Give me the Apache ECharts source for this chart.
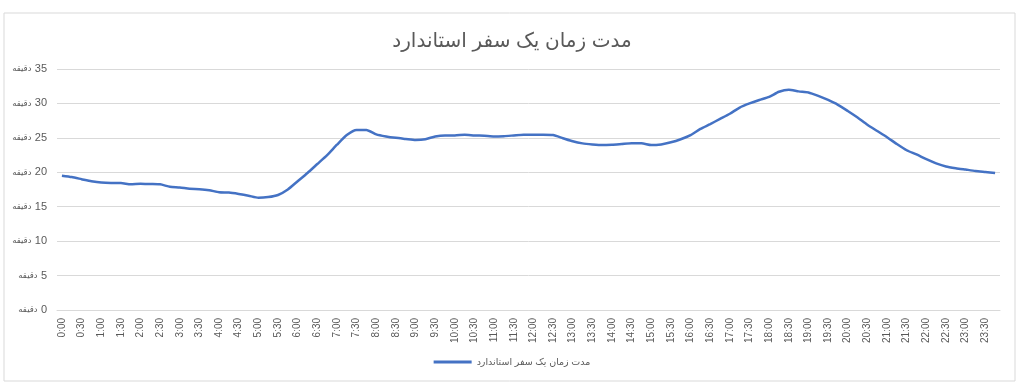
<!DOCTYPE html>
<html>
<head>
<meta charset="utf-8">
<script src="https://cdn.jsdelivr.net/npm/echarts@6/dist/echarts.min.js"></script>
<style>
html,body{margin:0;padding:0;background:#fff;}
#chart{width:1024px;height:389px;}
</style>
</head>
<body>
<div id="chart"></div>
<script>
const titleText = 'مدت زمان یک سفر استاندارد';
const seriesName = 'مدت زمان یک سفر استاندارد';
const unitWord = 'دقیقه';

// 15-minute time slots (labels shown every 30 minutes)
const categories = [];
for (let h = 0; h < 24; h++) {
  for (const m of ['00', '15', '30', '45']) categories.push(h + ':' + m);
}

const values = [
  19.5, 19.3, 19.0, 18.7, 18.5, 18.45, 18.45, 18.25,
  18.35, 18.3, 18.25, 17.9, 17.8, 17.6, 17.55, 17.4,
  17.1, 17.05, 16.85, 16.6, 16.3, 16.4, 16.7, 17.5,
  18.7, 19.9, 21.2, 22.5, 24.0, 25.4, 26.15, 26.15,
  25.5, 25.2, 25.0, 24.85, 24.7, 24.8, 25.2, 25.35,
  25.35, 25.45, 25.35, 25.3, 25.2, 25.25, 25.35, 25.45,
  25.45, 25.45, 25.4, 24.95, 24.5, 24.2, 24.05, 23.95,
  24.0, 24.1, 24.2, 24.2, 23.95, 24.05, 24.35, 24.8,
  25.4, 26.3, 27.0, 27.75, 28.5, 29.4, 30.0, 30.5,
  30.95, 31.7, 32.0, 31.75, 31.6, 31.1, 30.5, 29.8,
  28.9, 27.95, 26.9, 26.0, 25.1, 24.1, 23.2, 22.6,
  21.9, 21.3, 20.85, 20.6, 20.4, 20.2, 20.05, 19.9
];

const yTicks = [0, 5, 10, 15, 20, 25, 30, 35];

const chart = echarts.init(document.getElementById('chart'), null, {renderer: 'canvas'});
chart.setOption({
  animation: false,
  backgroundColor: '#ffffff',
  textStyle: {fontFamily: 'Liberation Sans, DejaVu Sans, sans-serif'},
  graphic: [{
    type: 'rect',
    shape: {x: 4, y: 13, width: 1011, height: 368},
    style: {fill: 'none', stroke: '#d9d9d9', lineWidth: 1},
    silent: true,
    z: -1
  }],
  title: {
    text: titleText,
    left: 'center',
    top: 26,
    textStyle: {fontSize: 20, fontWeight: 'normal', color: '#595959', fontFamily: 'Liberation Sans, DejaVu Sans, sans-serif'}
  },
  grid: {left: 57, right: 24, top: 69, bottom: 79, containLabel: false},
  legend: {
    data: [seriesName],
    bottom: 17,
    left: 'center',
    itemWidth: 38,
    itemHeight: 3,
    icon: 'rect',
    textStyle: {fontSize: 9.5, color: '#595959'}
  },
  xAxis: {
    type: 'category',
    data: categories,
    boundaryGap: true,
    axisLine: {show: true, lineStyle: {color: '#d9d9d9'}},
    axisTick: {show: false},
    axisLabel: {
      interval: 1,
      rotate: 90,
      fontSize: 10,
      color: '#595959',
      margin: 8
    },
    splitLine: {show: false}
  },
  yAxis: {
    type: 'value',
    min: yTicks[0],
    max: yTicks[yTicks.length - 1],
    interval: 5,
    axisLine: {show: false},
    axisTick: {show: false},
    splitLine: {lineStyle: {color: '#d9d9d9', width: 1}},
    axisLabel: {
      margin: 10,
      formatter: function (v) { return '{u|' + unitWord + '} {n|' + v + '}'; },
      rich: {
        u: {fontSize: 8.5, color: '#595959'},
        n: {fontSize: 11, color: '#595959'}
      }
    }
  },
  series: [{
    name: seriesName,
    type: 'line',
    data: values,
    showSymbol: false,
    smooth: 0.2,
    lineStyle: {color: '#4472c4', width: 2.5},
    itemStyle: {color: '#4472c4'}
  }]
});
</script>
</body>
</html>
